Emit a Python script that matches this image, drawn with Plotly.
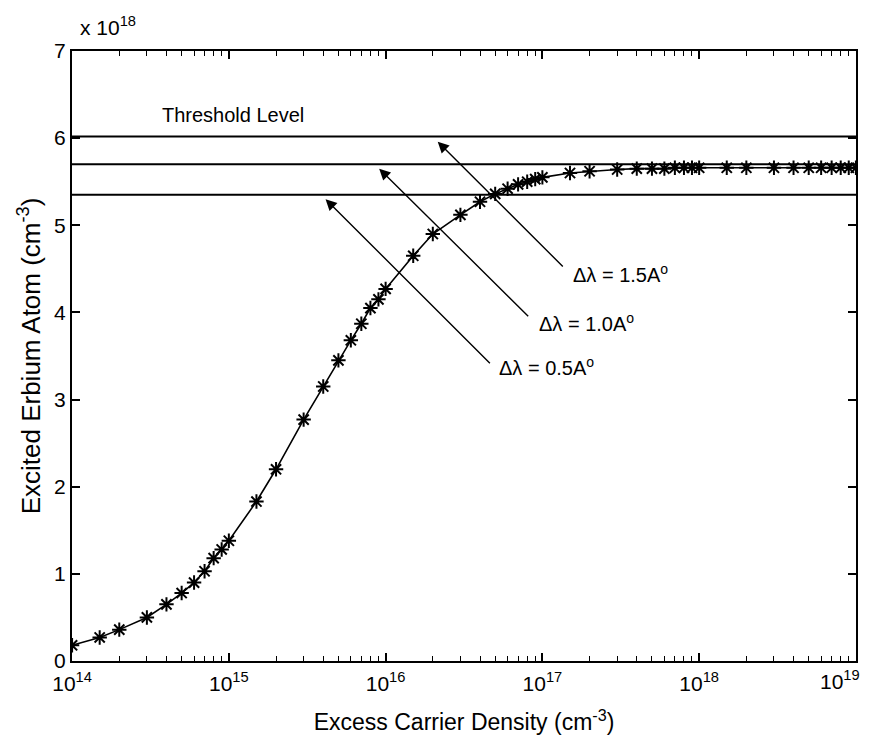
import numpy as np
import plotly.graph_objects as go

# Excess carrier density (cm^-3) and excited erbium population (x 1e18 cm^-3)
carrier_density = [
    1e14, 1.5e14, 2e14, 3e14, 4e14, 5e14, 6e14, 7e14, 8e14, 9e14,
    1e15, 1.5e15, 2e15, 3e15, 4e15, 5e15, 6e15, 7e15, 8e15, 9e15,
    1e16, 1.5e16, 2e16, 3e16, 4e16, 5e16, 6e16, 7e16, 8e16, 9e16,
    1e17, 1.5e17, 2e17, 3e17, 4e17, 5e17, 6e17, 7e17, 8e17, 9e17,
    1e18, 1.5e18, 2e18, 3e18, 4e18, 5e18, 6e18, 7e18, 8e18, 9e18,
    1e19,
]
excited_erbium = [
    0.18, 0.27, 0.36, 0.50, 0.65, 0.78, 0.90, 1.03, 1.18, 1.28,
    1.38, 1.83, 2.20, 2.77, 3.15, 3.45, 3.68, 3.87, 4.05, 4.15,
    4.27, 4.65, 4.90, 5.12, 5.27, 5.36, 5.42, 5.47, 5.50, 5.53,
    5.55, 5.60, 5.62, 5.64, 5.65, 5.65, 5.65, 5.66, 5.66, 5.66,
    5.66, 5.66, 5.66, 5.66, 5.66, 5.66, 5.66, 5.66, 5.66, 5.66,
    5.66,
]

# Lasing threshold levels for each linewidth
threshold_labels = ["\u0394\u03bb = 0.5A<sup>o</sup>",
                    "\u0394\u03bb = 1.0A<sup>o</sup>",
                    "\u0394\u03bb = 1.5A<sup>o</sup>"]
threshold_levels = [5.35, 5.70, 6.02]
# arrow tip (x, y), arrow tail (x, y), label anchor (x, y)
arrow_tips = [(4.14e15, 5.30), (9.1e15, 5.65), (2.15e16, 5.96)]
arrow_tails = [(4.73e16, 3.40), (8.3e16, 3.94), (1.38e17, 4.51)]
label_pos = [(5.16e16, 3.38), (9.3e16, 3.89), (1.53e17, 4.45)]

x_decades = [14, 15, 16, 17, 18, 19]
y_ticks = [0, 1, 2, 3, 4, 5, 6, 7]

FONT = "Liberation Sans, Arial, Helvetica, sans-serif"
W, H = 874, 747
L, R, T, B = 72, 18, 51, 86
X_RANGE = [13.9995, 19.0005]

minor_vals = [m * 10.0 ** d for d in x_decades[:-1] for m in range(2, 10)]
decade_labels = [f"10<sup>{d}</sup>" for d in x_decades]

fig = go.Figure()

fig.add_trace(go.Scatter(
    x=carrier_density, y=excited_erbium,
    mode="lines+markers",
    line=dict(color="black", width=1.6),
    marker=dict(symbol="asterisk-open", size=12,
                line=dict(color="black", width=2)),
    showlegend=False, hoverinfo="x+y",
))
# invisible companion trace so the top axis (mirrored ticks) gets drawn
fig.add_trace(go.Scatter(
    x=carrier_density, y=excited_erbium, xaxis="x2",
    mode="none", showlegend=False, hoverinfo="skip",
))

for lvl in threshold_levels:
    fig.add_shape(type="line", xref="paper", yref="y",
                  x0=0, x1=1, y0=lvl, y1=lvl,
                  line=dict(color="black", width=2))

for txt, tip, tail, pos in zip(threshold_labels, arrow_tips, arrow_tails, label_pos):
    fig.add_annotation(
        x=np.log10(tip[0]), y=tip[1],
        ax=np.log10(tail[0]), ay=tail[1],
        axref="x", ayref="y", xref="x", yref="y",
        text="", showarrow=True,
        arrowhead=2, arrowsize=1.6, arrowwidth=1.4, arrowcolor="black",
    )
    fig.add_annotation(
        x=np.log10(pos[0]), y=pos[1], xref="x", yref="y",
        text=txt, showarrow=False, xanchor="left", yanchor="middle",
        font=dict(family=FONT, size=20, color="black"),
    )

fig.add_annotation(
    x=np.log10(3.63e14), y=6.27, xref="x", yref="y",
    text="Threshold Level", showarrow=False,
    xanchor="left", yanchor="middle",
    font=dict(family=FONT, size=20, color="black"),
)

# exponent of the y axis
fig.add_annotation(
    x=(78 - L) / (W - L - R), y=1.0, xref="paper", yref="paper",
    text="x 10<sup>18</sup>", showarrow=False,
    xanchor="left", yanchor="bottom", yshift=10,
    font=dict(family=FONT, size=21, color="black"),
)

# last decade label sits flush with the right edge of the box
fig.add_annotation(
    x=x_decades[-1], y=0, xref="x", yref="paper",
    text=decade_labels[-1], showarrow=False,
    xanchor="right", yanchor="top", xshift=6, yshift=-4,
    font=dict(family=FONT, size=21, color="black"),
)

axis_common = dict(
    type="log", range=X_RANGE, automargin=False,
    ticks="inside", ticklen=8, tickwidth=1.5, tickcolor="black",
    minor=dict(ticks="inside", ticklen=5, tickwidth=1.3, tickcolor="black",
               tickvals=minor_vals),
    showgrid=False, zeroline=False,
)

fig.update_layout(
    xaxis=dict(
        **axis_common,
        tickvals=[10.0 ** d for d in x_decades],
        ticktext=decade_labels[:-1] + [""],
        showline=True, linecolor="black", linewidth=2, mirror=True,
        tickfont=dict(family=FONT, size=21, color="black"),
        ticklabelstandoff=3,
        title=dict(text="Excess Carrier Density (cm<sup>-3</sup>)",
                   font=dict(family=FONT, size=23, color="black"), standoff=20),
    ),
    xaxis2=dict(
        **axis_common,
        tickvals=[10.0 ** d for d in x_decades],
        overlaying="x", side="top", anchor="y",
        showticklabels=False, showline=False,
    ),
    yaxis=dict(
        range=[0, 7], tickvals=y_ticks, automargin=False,
        ticks="inside", ticklen=8, tickwidth=1.5, tickcolor="black",
        showline=True, linecolor="black", linewidth=2, mirror="ticks",
        showgrid=False, zeroline=False,
        tickfont=dict(family=FONT, size=21, color="black"),
        title=dict(text="Excited Erbium Atom (cm<sup>-3</sup>)",
                   font=dict(family=FONT, size=26, color="black"), standoff=6),
    ),
    width=W, height=H,
    margin=dict(l=L, r=R, t=T, b=B),
    paper_bgcolor="white", plot_bgcolor="white",
    font=dict(family=FONT, color="black"),
)

fig.write_html("out.html")
